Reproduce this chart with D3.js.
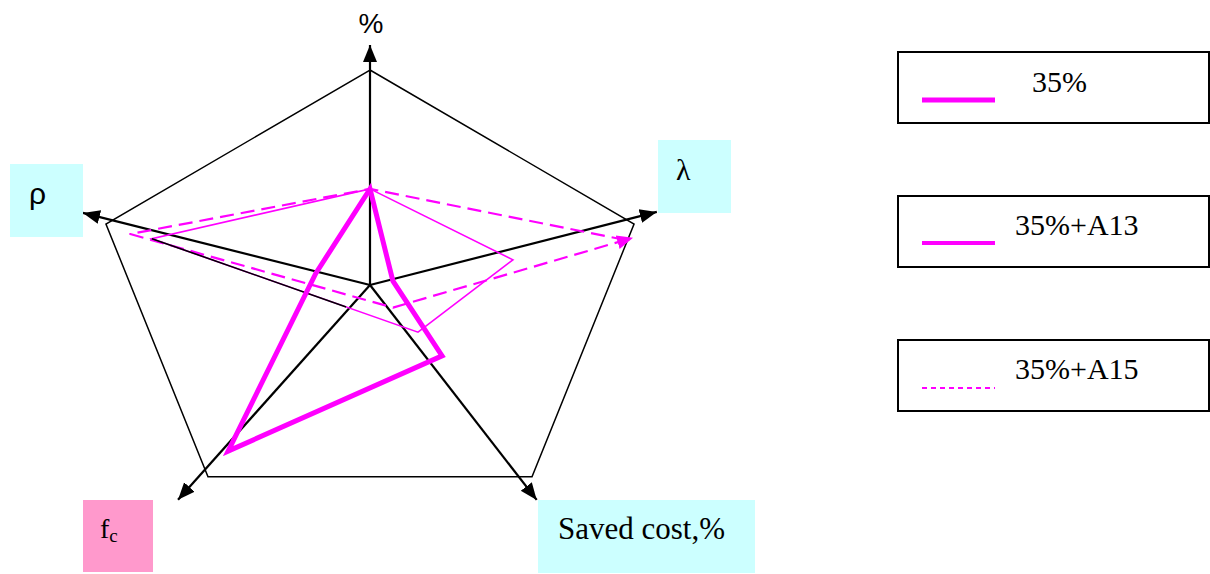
<!DOCTYPE html>
<html>
<head>
<meta charset="utf-8">
<script src="https://cdn.jsdelivr.net/npm/d3@7"></script>
<style>
  body { margin: 0; background: #fff; }
  svg { display: block; }
</style>
</head>
<body>
<div id="chart"></div>
<script>
// axes, clockwise from the top
const categories = ["%", "λ", "Saved cost,%", "fc", "ρ"];

// values per axis (null = no point on that axis)
const values35 = [44.7, 10.8, 47, 101.6, 25.8];
const valuesA13 = [44.7, 67.5, 31.3, null, 103.7];
const valuesA15 = [44.7, 120.6, 15, null, 114];

const seriesNames = ["35%", "35%+A13", "35%+A15"];

const width = 1210, height = 574;
const cx = 370, cy = 285;
const magenta = '#ff00ff';

// hand-drawn layout: arrow directions, frame corners and plotting directions
const arrowAngles = [-90, -14.3, 52.2, 131.8, 194.1];
const arrowLengths = [240, 296, 272, 288, 296];
const frameAngles = [-90, -13, 49.8, 130.2, 193];
const frameRadius = [215, 271, 251, 251, 271];
const plotAngles = [-90, -10, 44.5, 130.5, 192];

const r = d3.scaleLinear().domain([0, 100]).range([0, 215]);
const rad = d => d * Math.PI / 180;
const polar = (len, ang) => [cx + len * Math.cos(rad(ang)), cy + len * Math.sin(rad(ang))];

const svg = d3.select('#chart').append('svg')
    .attr('width', width)
    .attr('height', height)
    .attr('viewBox', [0, 0, width, height]);

const defs = svg.append('defs');
defs.append('marker')
    .attr('id', 'arrow-black')
    .attr('viewBox', '0 -8 18 16')
    .attr('refX', 17)
    .attr('refY', 0)
    .attr('markerUnits', 'userSpaceOnUse')
    .attr('markerWidth', 18)
    .attr('markerHeight', 16)
    .attr('orient', 'auto')
    .append('path')
    .attr('d', 'M0,-7L17,0L0,7Z')
    .attr('fill', '#000');
defs.append('marker')
    .attr('id', 'arrow-magenta')
    .attr('viewBox', '0 -8 18 16')
    .attr('refX', 8)
    .attr('refY', 0)
    .attr('markerUnits', 'userSpaceOnUse')
    .attr('markerWidth', 18)
    .attr('markerHeight', 16)
    .attr('orient', 'auto')
    .append('path')
    .attr('d', 'M0,-7L16,0L0,7Z')
    .attr('fill', magenta);

// pentagon frame
const framePts = frameAngles.map((a, i) => polar(frameRadius[i], a));
svg.append('path')
    .attr('d', d3.line().curve(d3.curveLinearClosed)(framePts))
    .attr('fill', 'none')
    .attr('stroke', '#000')
    .attr('stroke-width', 1.5)
    .attr('stroke-linejoin', 'miter');

// axes with arrowheads
svg.append('g')
    .selectAll('line')
    .data(categories)
    .join('line')
    .attr('x1', cx)
    .attr('y1', cy)
    .attr('x2', (d, i) => polar(arrowLengths[i], arrowAngles[i])[0])
    .attr('y2', (d, i) => polar(arrowLengths[i], arrowAngles[i])[1])
    .attr('stroke', '#000')
    .attr('stroke-width', 2.2)
    .attr('marker-end', 'url(#arrow-black)');

// series points
function seriesPoints(vals) {
    return vals.map((v, i) => v == null ? null : polar(r(v), plotAngles[i]))
        .filter(p => p);
}

const lineGen = d3.line();

// 35%+A15: dashed, drawn as an open path ending on λ with an arrowhead
const ptsA15 = seriesPoints(valuesA15);
const orderA15 = [1, 0, 3, 2, 1];
svg.append('path')
    .attr('d', lineGen(orderA15.map(i => ptsA15[i])))
    .attr('fill', 'none')
    .attr('stroke', magenta)
    .attr('stroke-width', 2.2)
    .attr('stroke-dasharray', '14,7')
    .attr('stroke-linejoin', 'round')
    .attr('marker-end', 'url(#arrow-magenta)');

// 35%+A13: thin solid
const ptsA13 = seriesPoints(valuesA13);
svg.append('path')
    .attr('d', lineGen.curve(d3.curveLinearClosed)(ptsA13))
    .attr('fill', 'none')
    .attr('stroke', magenta)
    .attr('stroke-width', 1.6);
// part of the ρ -> saved cost edge shows up black in the original
const pRho = ptsA13[3], pSaved = ptsA13[2];
const tBlack = 0.73;
svg.append('line')
    .attr('x1', pRho[0])
    .attr('y1', pRho[1])
    .attr('x2', pRho[0] + (pSaved[0] - pRho[0]) * tBlack)
    .attr('y2', pRho[1] + (pSaved[1] - pRho[1]) * tBlack)
    .attr('stroke', '#000')
    .attr('stroke-width', 1.6);

// 35%: thick solid
const pts35 = seriesPoints(values35);
svg.append('path')
    .attr('d', d3.line().curve(d3.curveLinearClosed)(pts35))
    .attr('fill', 'none')
    .attr('stroke', magenta)
    .attr('stroke-width', 5)
    .attr('stroke-linejoin', 'miter');

// axis labels
svg.append('text')
    .attr('x', 371)
    .attr('y', 33)
    .attr('text-anchor', 'middle')
    .style('font-family', '"Liberation Sans", Arial, sans-serif')
    .style('font-size', '28px')
    .text(categories[0]);

// ρ
svg.append('rect').attr('x', 10).attr('y', 164).attr('width', 73).attr('height', 73).attr('fill', '#ccffff');
svg.append('text')
    .attr('x', 29)
    .attr('y', 204)
    .style('font-family', '"Liberation Sans", Arial, sans-serif')
    .style('font-size', '30px')
    .text(categories[4]);

// λ
svg.append('rect').attr('x', 658).attr('y', 140).attr('width', 73).attr('height', 73).attr('fill', '#ccffff');
svg.append('text')
    .attr('x', 676)
    .attr('y', 180)
    .style('font-family', '"Liberation Serif", "Times New Roman", serif')
    .style('font-size', '30px')
    .text(categories[1]);

// fc
svg.append('rect').attr('x', 83).attr('y', 500).attr('width', 70).attr('height', 72).attr('fill', '#ff99cc');
const fcText = svg.append('text')
    .attr('x', 100)
    .attr('y', 538)
    .style('font-family', '"Liberation Serif", "Times New Roman", serif')
    .style('font-size', '28px');
fcText.append('tspan').text(categories[3].charAt(0));
fcText.append('tspan').attr('dy', 4).style('font-size', '19px').text(categories[3].slice(1));

// Saved cost
svg.append('rect').attr('x', 538).attr('y', 500).attr('width', 217).attr('height', 73).attr('fill', '#ccffff');
svg.append('text')
    .attr('x', 558)
    .attr('y', 539)
    .style('font-family', '"Liberation Serif", "Times New Roman", serif')
    .style('font-size', '31px')
    .text(categories[2]);

// legend boxes
const legendY = [52, 196, 340];
const legendTextX = [1032, 1015, 1015];
const legendStyles = [
    { width: 5, dash: null },
    { width: 4, dash: null },
    { width: 2, dash: '5,4' }
];

const legend = svg.append('g')
    .selectAll('g')
    .data(seriesNames)
    .join('g')
    .attr('transform', (d, i) => `translate(898,${legendY[i]})`);

legend.append('rect')
    .attr('width', 311)
    .attr('height', 71)
    .attr('fill', '#fff')
    .attr('stroke', '#000')
    .attr('stroke-width', 2);

legend.append('line')
    .attr('x1', 24)
    .attr('x2', 97)
    .attr('y1', (d, i) => i === 1 ? 47 : 48)
    .attr('y2', (d, i) => i === 1 ? 47 : 48)
    .attr('stroke', magenta)
    .attr('stroke-width', (d, i) => legendStyles[i].width)
    .attr('stroke-dasharray', (d, i) => legendStyles[i].dash);

legend.append('text')
    .attr('x', (d, i) => legendTextX[i] - 898)
    .attr('y', (d, i) => i === 0 ? 40 : 39)
    .style('font-family', '"Liberation Serif", "Times New Roman", serif')
    .style('font-size', '30px')
    .text(d => d);
</script>
</body>
</html>
